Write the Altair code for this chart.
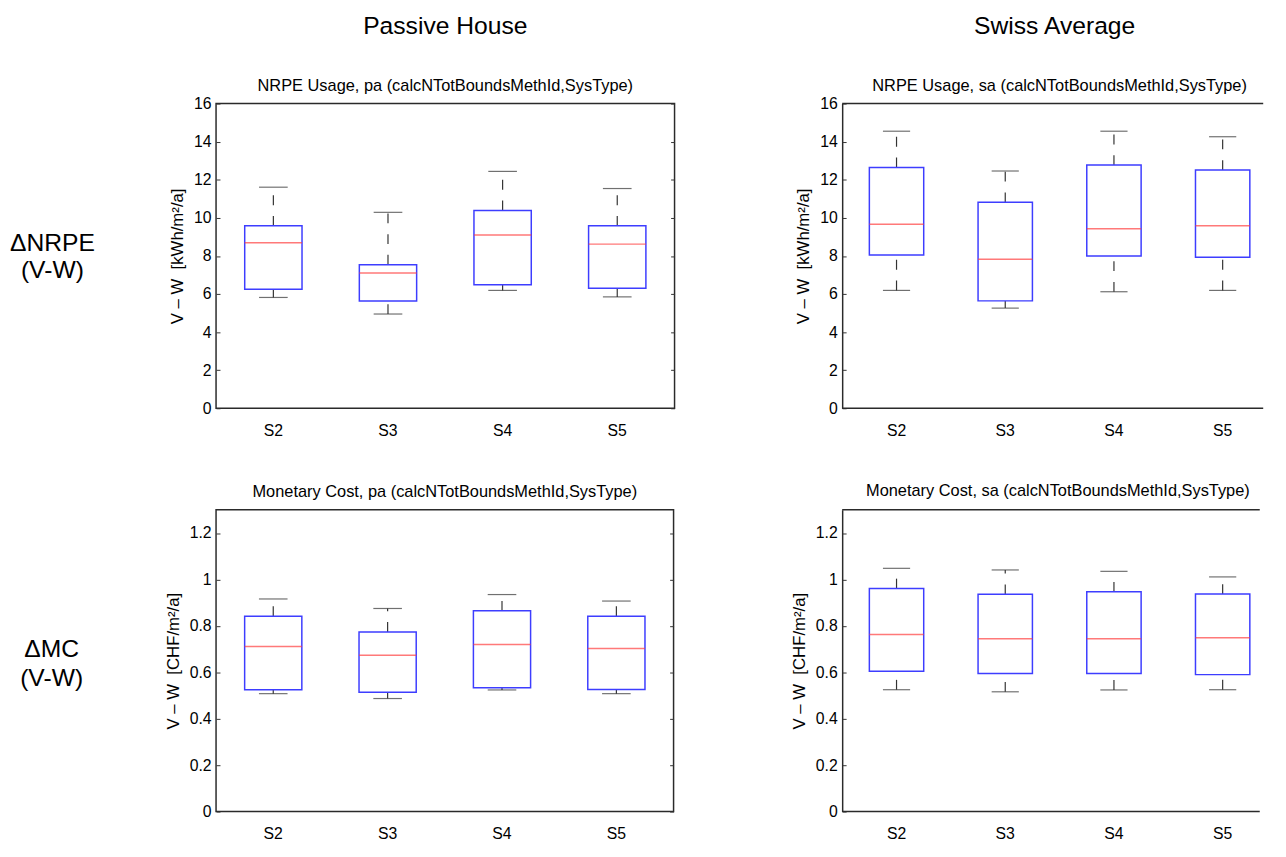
import altair as alt
import pandas as pd

FONT = "Liberation Sans"

categories = ["S2", "S3", "S4", "S5"]

# NRPE usage, passive house (pa)
nrpe_pa_low = [5.82, 4.95, 6.19, 5.85]
nrpe_pa_q1 = [6.25, 5.63, 6.49, 6.30]
nrpe_pa_med = [8.69, 7.11, 9.10, 8.62]
nrpe_pa_q3 = [9.58, 7.54, 10.39, 9.58]
nrpe_pa_high = [11.61, 10.29, 12.44, 11.54]

# NRPE usage, swiss average (sa)
nrpe_sa_low = [6.19, 5.26, 6.12, 6.19]
nrpe_sa_q1 = [8.05, 5.64, 8.00, 7.93]
nrpe_sa_med = [9.67, 7.83, 9.43, 9.58]
nrpe_sa_q3 = [12.65, 10.82, 12.77, 12.51]
nrpe_sa_high = [14.55, 12.46, 14.55, 14.26]

# Monetary cost, passive house (pa)
mc_pa_low = [0.508, 0.487, 0.524, 0.508]
mc_pa_q1 = [0.525, 0.514, 0.533, 0.526]
mc_pa_med = [0.711, 0.673, 0.720, 0.703]
mc_pa_q3 = [0.842, 0.774, 0.865, 0.842]
mc_pa_high = [0.916, 0.875, 0.935, 0.907]

# Monetary cost, swiss average (sa)
mc_sa_low = [0.525, 0.516, 0.524, 0.525]
mc_sa_q1 = [0.605, 0.595, 0.595, 0.590]
mc_sa_med = [0.763, 0.745, 0.745, 0.749]
mc_sa_q3 = [0.961, 0.936, 0.947, 0.937]
mc_sa_high = [1.048, 1.041, 1.035, 1.011]

column_titles = ["Passive House", "Swiss Average"]
row_labels = [["ΔNRPE", "(V-W)"], ["ΔMC", "(V-W)"]]
panel_titles = [
    "NRPE Usage, pa (calcNTotBoundsMethId,SysType)",
    "NRPE Usage, sa (calcNTotBoundsMethId,SysType)",
    "Monetary Cost, pa (calcNTotBoundsMethId,SysType)",
    "Monetary Cost, sa (calcNTotBoundsMethId,SysType)",
]
y_titles = ["V – W \u00a0[kWh/m²/a]", "V – W \u00a0[CHF/m²/a]"]
nrpe_ticks = [0, 2, 4, 6, 8, 10, 12, 14, 16]
mc_ticks = [0, 0.2, 0.4, 0.6, 0.8, 1, 1.2]

WH = "#333333"
BLUE = "#3d3dff"
RED = "#ff4040"
FRAME = "#2a2a2a"


def panel(low, q1, med, q3, high, title, ytitle, ymax, ticks, width, height,
          title_offset, full_width=None, title_dx=0, x_pad=9):
    """width = visible plot width; full_width = width of the x range (the original runs off the page)."""
    open_right = full_width is not None
    rng = full_width if open_right else width
    df = pd.DataFrame({"cat": categories, "low": low, "q1": q1, "med": med, "q3": q3, "high": high})
    band = rng / len(categories)
    box_w = band * 0.5
    cap_w = box_w * 0.5
    base = alt.Chart(df)
    x = alt.X("cat:N", sort=categories,
              scale=alt.Scale(range=[0, rng], paddingInner=0, paddingOuter=0),
              axis=alt.Axis(title=None, labelAngle=0, labelPadding=x_pad, ticks=False,
                            tickSize=0, domain=False, grid=False))
    ysc = alt.Scale(domain=[0, ymax], nice=False, zero=True)
    main_axis = alt.Axis(values=ticks, title=ytitle, format="~g", labelPadding=5, titlePadding=7,
                         ticks=False, tickSize=0, domain=open_right, domainColor=FRAME,
                         domainWidth=1.5, grid=False)
    tick_in_left = alt.Axis(orient="right", offset=-width, values=ticks, labels=False, ticks=True,
                            tickSize=4, tickColor=WH, domain=False, grid=False, title=None)
    tick_in_right = alt.Axis(orient="left", offset=-width, values=ticks, labels=False, ticks=True,
                             tickSize=4, tickColor=WH, domain=False, grid=False, title=None)
    dash = [10, 11]
    upper = base.mark_rule(color=WH, strokeWidth=1.2, strokeDash=dash).encode(
        x=x, y=alt.Y("q3:Q", scale=ysc, axis=main_axis), y2="high:Q")
    lower = base.mark_rule(color=WH, strokeWidth=1.2, strokeDash=dash).encode(
        x=x, y=alt.Y("low:Q", scale=ysc, axis=tick_in_left), y2="q1:Q")
    box = base.mark_bar(fill="white", stroke=BLUE, strokeWidth=1.5, width=box_w).encode(
        x=x, y=alt.Y("q1:Q", scale=ysc, axis=None), y2="q3:Q")
    cap_hi = base.mark_tick(color=WH, size=cap_w, thickness=1.2).encode(
        x=x, y=alt.Y("high:Q", scale=ysc, axis=None if open_right else tick_in_right))
    cap_lo = base.mark_tick(color=WH, size=cap_w, thickness=1.2).encode(
        x=x, y=alt.Y("low:Q", scale=ysc, axis=None))
    median = base.mark_tick(color=RED, size=box_w, thickness=1.5).encode(
        x=x, y=alt.Y("med:Q", scale=ysc, axis=None))
    layers = [upper, lower, box, cap_hi, cap_lo, median]
    if open_right:
        # top and bottom frame lines of an axes box that runs off the right edge of the page
        fdf = pd.DataFrame({"k": [0]})
        layers.append(alt.Chart(fdf).mark_rule(color=FRAME, strokeWidth=1.5).encode(
            x=alt.value(0), x2=alt.value(width), y=alt.value(0)))
        layers.append(alt.Chart(fdf).mark_rule(color=FRAME, strokeWidth=1.5).encode(
            x=alt.value(0), x2=alt.value(width), y=alt.value(height)))
        view = alt.ViewBackground(stroke="transparent")
    else:
        view = alt.ViewBackground(stroke=FRAME, strokeWidth=1.5)
    return alt.layer(*layers).resolve_axis(y="independent").properties(
        width=width, height=height,
        title=alt.TitleParams(title, anchor="middle", frame="group", offset=title_offset, dx=title_dx,
                              fontSize=16.6, font=FONT, fontWeight="normal"),
        view=view,
    )


def text_cell(text, width, height, dx=0, dy=0, size=25, line_height=29):
    return alt.Chart(pd.DataFrame({"k": [0]})).mark_text(
        font=FONT, fontSize=size, lineHeight=line_height, baseline="middle", align="center",
        color="#000", dx=dx, dy=dy,
    ).encode(text=alt.value(text)).properties(width=width, height=height)


W_L1, W_L2 = 465, 464
W_R1, W_R2 = 427, 423.5     # visible part of the right-hand axes
W_R_FULL = 441              # full axes width (runs past the page edge)
H1, H2 = 309, 306
HEAD_H = 24
ROW1_CELL_H = 345

p11 = panel(nrpe_pa_low, nrpe_pa_q1, nrpe_pa_med, nrpe_pa_q3, nrpe_pa_high, panel_titles[0],
            y_titles[0], 16, nrpe_ticks, W_L1, H1, 1.6, x_pad=15)
p12 = panel(nrpe_sa_low, nrpe_sa_q1, nrpe_sa_med, nrpe_sa_q3, nrpe_sa_high, panel_titles[1],
            y_titles[0], 16, nrpe_ticks, W_R1, H1, 1.6, full_width=W_R_FULL, title_dx=7, x_pad=15)
p21 = panel(mc_pa_low, mc_pa_q1, mc_pa_med, mc_pa_q3, mc_pa_high, panel_titles[2],
            y_titles[1], 1.3, mc_ticks, W_L2, H2, 9.6, x_pad=14)
p22 = panel(mc_sa_low, mc_sa_q1, mc_sa_med, mc_sa_q3, mc_sa_high, panel_titles[3],
            y_titles[1], 1.3, mc_ticks, W_R2, H2, 9.6, full_width=W_R_FULL, title_dx=7, x_pad=14)

cells = [
    text_cell("", 36, HEAD_H),
    text_cell(column_titles[0], W_L1, HEAD_H),
    text_cell(column_titles[1], W_R1, HEAD_H, dx=2),
    text_cell(row_labels[0], 36, ROW1_CELL_H, dx=27, dy=-31.5, line_height=28),
    p11,
    p12,
    text_cell(row_labels[1], 40.5, H2, dx=24, dy=-12, line_height=30),
    p21,
    p22,
]

chart = alt.concat(
    *cells, columns=3, bounds="flush",
    align=alt.RowColLayoutAlign(row="each", column="none"),
    spacing=alt.RowColnumber(row=67, column=170),
).properties(padding=0).configure_view(stroke="transparent").configure_axis(
    labelFont=FONT, labelFontSize=16, labelColor="#000",
    titleFont=FONT, titleFontSize=17, titleFontWeight="normal", titleColor="#000",
    grid=False,
).configure_title(font=FONT, fontSize=16.6, fontWeight="normal", color="#000")

chart.save("out.html", embed_options={"renderer": "svg", "actions": False})
